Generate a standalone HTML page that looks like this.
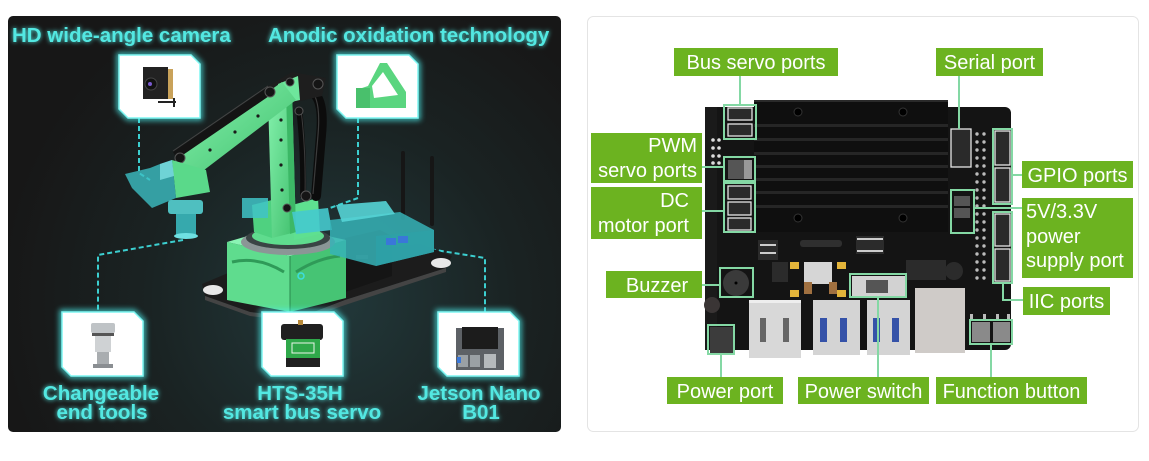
<!DOCTYPE html>
<html><head><meta charset="utf-8">
<style>
html,body{margin:0;padding:0;background:#fff;}
svg{display:block;}
</style></head>
<body>
<svg width="1149" height="461" viewBox="0 0 1149 461" xmlns="http://www.w3.org/2000/svg">
<defs>
  <radialGradient id="bg" cx="330" cy="300" r="330" gradientUnits="userSpaceOnUse">
    <stop offset="0" stop-color="#22393b"/>
    <stop offset="0.55" stop-color="#1a2323"/>
    <stop offset="1" stop-color="#171717"/>
  </radialGradient>
  <filter id="glow" x="-20%" y="-60%" width="140%" height="220%">
    <feGaussianBlur in="SourceGraphic" stdDeviation="2.5" result="b"/>
    <feMerge><feMergeNode in="b"/><feMergeNode in="SourceGraphic"/></feMerge>
  </filter>
  <filter id="bglow" x="-30%" y="-30%" width="160%" height="160%">
    <feGaussianBlur in="SourceGraphic" stdDeviation="3"/>
  </filter>
  <linearGradient id="grn" x1="0" y1="0" x2="1" y2="1">
    <stop offset="0" stop-color="#86f2ae"/><stop offset="1" stop-color="#3fbf6c"/>
  </linearGradient>
</defs>

<!-- ============ LEFT PANEL ============ -->
<rect x="8" y="16" width="553" height="416" rx="5" fill="url(#bg)"/>

<!-- dashed connectors -->
<g fill="none" stroke="#3ccfd0" stroke-width="2" stroke-dasharray="5 3">
  <polyline points="139,118 139,173 150,180"/>
  <polyline points="358,118 358,198 330,208"/>
  <polyline points="183,240 98,255 98,312"/>
  <polyline points="302,277 310,284 310,312"/>
  <polyline points="423,248 485,258 485,312"/>
</g>

<!-- robot: base plate -->
<polygon points="202,284 240,268 420,244 452,256 446,268 345,300 298,318 250,312 205,296" fill="#1c1c1c"/>
<polygon points="205,296 250,312 298,318 345,300 446,268 446,272 345,305 298,322 250,316 205,300" fill="#444"/>
<ellipse cx="213" cy="290" rx="10" ry="5" fill="#e8e8e8"/>
<ellipse cx="441" cy="263" rx="10" ry="5" fill="#e8e8e8"/>
<!-- black block -->
<polygon points="345,238 380,230 392,236 392,276 345,292" fill="#151515"/>
<rect x="356" y="255" width="12" height="4" fill="#333"/>
<!-- green base box -->
<polygon points="227,242 290,256 290,312 227,300" fill="#5fdc8e"/>
<polygon points="290,256 346,240 346,298 290,312" fill="#46c474"/>
<polygon points="227,242 282,226 346,240 290,256" fill="#8af4b4"/>
<path d="M232,262 Q258,256 284,272" stroke="#2f9a58" stroke-width="3" fill="none"/>
<path d="M296,272 Q318,258 340,256" stroke="#2f9a58" stroke-width="3" fill="none"/>
<line x1="290" y1="256" x2="290" y2="312" stroke="#2a8a4e" stroke-width="1"/>
<circle cx="301" cy="276" r="3" fill="none" stroke="#3cdede" stroke-width="1.5"/>
<!-- turntable -->
<ellipse cx="288" cy="242" rx="47" ry="13" fill="#8b9696"/>
<ellipse cx="288" cy="238" rx="42" ry="11" fill="#3a4444"/>
<ellipse cx="288" cy="236" rx="36" ry="9" fill="#5fdc8e"/>
<!-- shoulder bracket -->
<polygon points="252,205 272,200 272,238 254,232" fill="#4fd180"/>
<polygon points="292,205 318,198 320,234 294,240" fill="#5ee090"/>
<!-- black curved link -->
<path d="M298,90 Q326,84 321,135 L316,196" stroke="#0c0c0c" stroke-width="10" fill="none" stroke-linecap="round"/>
<path d="M303,88 Q322,88 318,135 L313,194" stroke="#3c3c3c" stroke-width="1.2" fill="none"/>
<path d="M299,108 Q304,150 303,198" stroke="#0c0c0c" stroke-width="6" fill="none"/>
<path d="M301,110 Q306,150 305,196" stroke="#3c3c3c" stroke-width="1" fill="none"/>
<!-- vertical column -->
<polygon points="268,98 292,88 296,232 272,238" fill="url(#grn)"/>
<polygon points="286,92 292,88 296,232 290,234" fill="#3cb866"/>
<g fill="#1a1a1a">
  <circle cx="281" cy="120" r="1.6"/><circle cx="281" cy="140" r="1.6"/><circle cx="281" cy="165" r="1.6"/><circle cx="282" cy="190" r="1.6"/>
</g>
<!-- top bracket -->
<polygon points="265,88 292,72 326,78 322,96 296,102" fill="#1e1e1e"/>
<polygon points="278,84 298,76 300,100 282,104" fill="#6ee69c"/>
<!-- upper arm diagonal -->
<polygon points="175,158 282,82 296,100 191,180" fill="url(#grn)"/>
<polygon points="173,152 268,87 272,94 177,159" fill="#141414"/>
<line x1="173" y1="151" x2="268" y2="86" stroke="#444" stroke-width="1"/>
<g fill="#1a1a1a">
  <circle cx="210" cy="150" r="1.6"/><circle cx="235" cy="132" r="1.6"/><circle cx="258" cy="116" r="1.6"/>
</g>
<!-- joints -->
<g fill="#151515" stroke="#555" stroke-width="1">
  <circle cx="180" cy="158" r="5"/><circle cx="270" cy="92" r="5"/><circle cx="290" cy="82" r="4"/>
  <circle cx="318" cy="84" r="5"/><circle cx="299" cy="111" r="4"/><circle cx="306" cy="196" r="5"/><circle cx="287" cy="208" r="4"/>
</g>
<!-- wrist -->
<polygon points="172,160 206,170 210,192 176,198" fill="#5ad98a"/>
<!-- gripper cyan -->
<polygon points="125,174 150,168 160,164 172,160 176,198 152,208 132,188" fill="#3cbfc4" opacity="0.8"/>
<polygon points="160,164 172,160 174,176 160,180" fill="#7ee0e2" opacity="0.8"/>
<!-- end tool -->
<rect x="168" y="200" width="35" height="14" rx="3" fill="#55d0d2" opacity="0.9"/>
<rect x="176" y="214" width="20" height="22" fill="#3ab8bd" opacity="0.9"/>
<ellipse cx="186" cy="236" rx="12" ry="3" fill="#6fe0e2"/>
<!-- cyan servos -->
<rect x="242" y="198" width="26" height="20" fill="#3fc3c7" opacity="0.85"/>
<polygon points="292,212 328,208 332,230 296,234" fill="#45cace" opacity="0.9"/>
<!-- antennas -->
<line x1="403" y1="153" x2="403" y2="218" stroke="#161616" stroke-width="4" stroke-linecap="round"/>
<line x1="432" y1="158" x2="432" y2="224" stroke="#161616" stroke-width="4" stroke-linecap="round"/>
<!-- jetson cyan case -->
<polygon points="330,220 400,212 434,230 434,252 376,266 330,254" fill="#36b3b7" opacity="0.85"/>
<polygon points="336,205 386,201 395,214 342,222" fill="#55d4d6" opacity="0.9"/>
<polygon points="376,236 434,230 434,252 376,266" fill="#2ea1a6" opacity="0.9"/>
<rect x="386" y="238" width="10" height="7" fill="#3a77d8"/>
<rect x="398" y="236" width="10" height="7" fill="#3a77d8"/>

<!-- glowing item boxes -->
<g>
  <g fill="none" stroke="#4df0ee" stroke-width="5" filter="url(#bglow)" opacity="0.8">
    <polygon points="119,55 191,55 200,64 200,118 128,118 119,109"/>
    <polygon points="337,55 409,55 418,64 418,118 346,118 337,109"/>
    <polygon points="62,312 134,312 143,321 143,376 71,376 62,367"/>
    <polygon points="262,312 334,312 343,321 343,376 271,376 262,367"/>
    <polygon points="438,312 510,312 519,321 519,376 447,376 438,367"/>
  </g>
  <g fill="#ffffff" stroke="#7ff6f2" stroke-width="1.5">
    <polygon points="119,55 191,55 200,64 200,118 128,118 119,109"/>
    <polygon points="337,55 409,55 418,64 418,118 346,118 337,109"/>
    <polygon points="62,312 134,312 143,321 143,376 71,376 62,367"/>
    <polygon points="262,312 334,312 343,321 343,376 271,376 262,367"/>
    <polygon points="438,312 510,312 519,321 519,376 447,376 438,367"/>
  </g>
</g>
<!-- camera icon -->
<rect x="143" y="67" width="25" height="32" fill="#222"/>
<rect x="168" y="69" width="5" height="30" fill="#c9a25a"/>
<circle cx="151" cy="84" r="6" fill="#111" stroke="#444"/>
<circle cx="150" cy="84" r="2" fill="#7a5ad0"/>
<line x1="158" y1="102" x2="176" y2="102" stroke="#222" stroke-width="2"/>
<line x1="174" y1="98" x2="174" y2="107" stroke="#222" stroke-width="2"/>
<!-- anodic bracket -->
<polygon points="356,108 356,90 368,86 380,63 387,63 406,92 406,108" fill="#5ad57f"/>
<polygon points="372,86 383,72 398,95 374,98" fill="#ffffff"/>
<rect x="356" y="88" width="14" height="20" fill="#49c06c"/>
<!-- end tool icon -->
<rect x="91" y="323" width="24" height="10" rx="2" fill="#bfc3c6"/>
<rect x="92" y="333" width="22" height="3" fill="#555"/>
<rect x="95" y="336" width="16" height="16" fill="#cfd2d4"/>
<rect x="97" y="352" width="12" height="14" fill="#a9adb0"/>
<rect x="93" y="364" width="20" height="4" fill="#8a8e92"/>
<!-- servo icon -->
<rect x="281" y="324" width="42" height="16" rx="3" fill="#202020"/>
<rect x="286" y="339" width="34" height="20" fill="#2fa84a"/>
<rect x="292" y="343" width="22" height="10" fill="none" stroke="#e8f5e8" stroke-width="1"/>
<rect x="286" y="358" width="34" height="9" fill="#202020"/>
<rect x="298" y="320" width="5" height="5" fill="#b88a3a"/>
<!-- jetson icon -->
<rect x="456" y="328" width="48" height="42" fill="#5d6166"/>
<rect x="462" y="327" width="36" height="22" fill="#1c1c1c"/>
<rect x="458" y="355" width="10" height="12" fill="#9aa0a5"/>
<rect x="470" y="355" width="10" height="12" fill="#9aa0a5"/>
<rect x="484" y="354" width="12" height="14" fill="#b5b9bc"/>
<rect x="457" y="357" width="4" height="6" fill="#3a77d8"/>

<!-- left panel texts -->
<g font-family="Liberation Sans, Arial, sans-serif" font-weight="bold" font-size="20.5" fill="#52e8e2" filter="url(#glow)">
  <text x="12" y="42">HD wide-angle camera</text>
  <text x="268" y="42">Anodic oxidation technology</text>
  <text x="101" y="400" text-anchor="middle">Changeable</text>
  <text x="102" y="419" text-anchor="middle">end tools</text>
  <text x="300" y="400" text-anchor="middle">HTS-35H</text>
  <text x="302" y="419" text-anchor="middle">smart bus servo</text>
  <text x="479" y="400" text-anchor="middle">Jetson Nano</text>
  <text x="481" y="419" text-anchor="middle">B01</text>
</g>

<!-- ============ RIGHT CARD ============ -->
<rect x="587.5" y="16.5" width="551" height="415" rx="6" fill="#ffffff" stroke="#e4e4e4" stroke-width="1"/>

<!-- PCB -->
<rect x="705" y="107" width="306" height="243" rx="6" fill="#141414"/>
<rect x="705" y="107" width="12" height="243" fill="#1a1a1a"/>
<!-- heatsink -->
<rect x="754" y="100" width="194" height="132" fill="#0f0f0f"/>
<g fill="#262626">
  <rect x="754" y="124" width="194" height="3"/>
  <rect x="754" y="138" width="194" height="3"/>
  <rect x="754" y="152" width="194" height="3"/>
  <rect x="754" y="165" width="194" height="3"/>
  <rect x="754" y="178" width="194" height="3"/>
  <rect x="754" y="191" width="194" height="3"/>
  <rect x="754" y="205" width="194" height="3"/>
</g>
<rect x="754" y="100" width="194" height="2" fill="#2a2a2a"/>
<g fill="#000" stroke="#333" stroke-width="1">
  <circle cx="798" cy="112" r="4"/><circle cx="903" cy="112" r="4"/>
  <circle cx="798" cy="218" r="4"/><circle cx="903" cy="218" r="4"/>
</g>
<!-- left small header dots -->
<g fill="#ddd">
  <circle cx="713" cy="140" r="1.8"/><circle cx="713" cy="148" r="1.8"/><circle cx="713" cy="156" r="1.8"/><circle cx="713" cy="163" r="1.8"/>
  <circle cx="719" cy="140" r="1.8"/><circle cx="719" cy="148" r="1.8"/><circle cx="719" cy="156" r="1.8"/><circle cx="719" cy="163" r="1.8"/>
</g>
<!-- pin header column -->
<g fill="#bbb">
  <circle cx="977" cy="134" r="1.7"/><circle cx="984" cy="134" r="1.7"/>
  <circle cx="977" cy="142" r="1.7"/><circle cx="984" cy="142" r="1.7"/>
  <circle cx="977" cy="150" r="1.7"/><circle cx="984" cy="150" r="1.7"/>
  <circle cx="977" cy="158" r="1.7"/><circle cx="984" cy="158" r="1.7"/>
  <circle cx="977" cy="166" r="1.7"/><circle cx="984" cy="166" r="1.7"/>
  <circle cx="977" cy="174" r="1.7"/><circle cx="984" cy="174" r="1.7"/>
  <circle cx="977" cy="182" r="1.7"/><circle cx="984" cy="182" r="1.7"/>
  <circle cx="977" cy="190" r="1.7"/><circle cx="984" cy="190" r="1.7"/>
  <circle cx="977" cy="198" r="1.7"/><circle cx="984" cy="198" r="1.7"/>
  <circle cx="977" cy="206" r="1.7"/><circle cx="984" cy="206" r="1.7"/>
  <circle cx="977" cy="214" r="1.7"/><circle cx="984" cy="214" r="1.7"/>
  <circle cx="977" cy="222" r="1.7"/><circle cx="984" cy="222" r="1.7"/>
  <circle cx="977" cy="230" r="1.7"/><circle cx="984" cy="230" r="1.7"/>
  <circle cx="977" cy="238" r="1.7"/><circle cx="984" cy="238" r="1.7"/>
  <circle cx="977" cy="246" r="1.7"/><circle cx="984" cy="246" r="1.7"/>
  <circle cx="977" cy="254" r="1.7"/><circle cx="984" cy="254" r="1.7"/>
  <circle cx="977" cy="262" r="1.7"/><circle cx="984" cy="262" r="1.7"/>
  <circle cx="977" cy="270" r="1.7"/><circle cx="984" cy="270" r="1.7"/>
  <circle cx="977" cy="278" r="1.7"/><circle cx="984" cy="278" r="1.7"/>
</g>
<!-- white connectors -->
<g fill="#2a2a2a" stroke="#e6e6e6" stroke-width="1.3">
  <rect x="728" y="108" width="24" height="12"/>
  <rect x="728" y="124" width="24" height="12"/>
  <rect x="728" y="186" width="23" height="13"/>
  <rect x="728" y="202" width="23" height="13"/>
  <rect x="728" y="218" width="23" height="12"/>
  <rect x="951" y="129" width="20" height="38"/>
  <rect x="995" y="131" width="15" height="34"/>
  <rect x="995" y="168" width="15" height="34"/>
  <rect x="995" y="214" width="15" height="32"/>
  <rect x="995" y="249" width="15" height="32"/>
</g>
<rect x="728" y="160" width="24" height="19" fill="#555"/>
<rect x="744" y="160" width="8" height="19" fill="#999"/>
<rect x="954" y="196" width="16" height="10" fill="#555"/>
<rect x="954" y="208" width="16" height="10" fill="#555"/>
<!-- lower board components -->
<g fill="#2b2b2b">
  <rect x="758" y="240" width="20" height="20"/>
  <rect x="772" y="262" width="16" height="20"/>
  <rect x="856" y="236" width="28" height="18"/>
  <rect x="906" y="260" width="40" height="20"/>
</g>
<g fill="#ccc">
  <rect x="857" y="238" width="26" height="2"/><rect x="857" y="250" width="26" height="2"/>
  <rect x="760" y="244" width="16" height="2"/><rect x="760" y="252" width="16" height="2"/>
</g>
<rect x="800" y="240" width="42" height="7" rx="3" fill="#2f2f2f"/>
<circle cx="954" cy="271" r="9" fill="#2b2b2b"/>
<g fill="#e3b43a">
  <rect x="790" y="262" width="9" height="7"/><rect x="837" y="262" width="9" height="7"/>
  <rect x="790" y="290" width="9" height="7"/><rect x="837" y="290" width="9" height="7"/>
</g>
<rect x="804" y="262" width="28" height="22" fill="#d6d6d6"/>
<rect x="804" y="282" width="8" height="12" fill="#a07040"/>
<rect x="829" y="282" width="8" height="12" fill="#a07040"/>
<!-- buzzer -->
<circle cx="736" cy="283" r="13" fill="#3a3a3a"/>
<circle cx="736" cy="283" r="1.5" fill="#000"/>
<circle cx="712" cy="305" r="8" fill="#3a3535"/>
<!-- power jack -->
<rect x="710" y="327" width="23" height="26" fill="#3c3c3c"/>
<!-- power switch -->
<rect x="852" y="276" width="53" height="20" fill="#d2d2d2"/>
<rect x="866" y="280" width="22" height="13" fill="#555"/>
<!-- USB ports -->
<rect x="749" y="300" width="52" height="58" fill="#d8d8d8"/>
<rect x="749" y="300" width="52" height="3" fill="#eee"/>
<rect x="760" y="318" width="6" height="24" fill="#666"/>
<rect x="783" y="318" width="6" height="24" fill="#666"/>
<rect x="813" y="300" width="47" height="55" fill="#d4d4d4"/>
<rect x="820" y="318" width="7" height="24" fill="#3552a8"/>
<rect x="840" y="318" width="7" height="24" fill="#3552a8"/>
<rect x="867" y="300" width="43" height="55" fill="#d4d4d4"/>
<rect x="873" y="318" width="7" height="24" fill="#3552a8"/>
<rect x="892" y="318" width="7" height="24" fill="#3552a8"/>
<!-- ethernet -->
<rect x="915" y="288" width="50" height="65" fill="#cfcbc8"/>
<!-- function buttons -->
<rect x="972" y="322" width="18" height="20" fill="#8a8a8a"/>
<rect x="993" y="322" width="17" height="20" fill="#8a8a8a"/>
<g fill="#bbb"><rect x="970" y="314" width="3" height="5"/><rect x="983" y="314" width="3" height="5"/><rect x="996" y="314" width="3" height="5"/><rect x="1007" y="314" width="3" height="5"/></g>

<!-- mint connector lines & highlight boxes -->
<g fill="none" stroke="#84d8a4" stroke-width="2">
  <line x1="740" y1="76" x2="740" y2="105"/>
  <rect x="724" y="105" width="32" height="34"/>
  <line x1="959" y1="76" x2="959" y2="129"/>
  <line x1="702" y1="167" x2="724" y2="167"/>
  <rect x="724" y="157" width="31" height="24"/>
  <line x1="702" y1="211" x2="724" y2="211"/>
  <rect x="724" y="183" width="31" height="49"/>
  <rect x="993" y="129" width="19" height="75"/>
  <line x1="1012" y1="175" x2="1022" y2="175"/>
  <rect x="951" y="190" width="23" height="43"/>
  <line x1="974" y1="208" x2="1022" y2="208"/>
  <rect x="993" y="212" width="19" height="71"/>
  <polyline points="1003,283 1003,300 1023,300"/>
  <line x1="702" y1="285" x2="720" y2="285"/>
  <rect x="720" y="268" width="33" height="29"/>
  <rect x="708" y="325" width="26" height="29"/>
  <line x1="721" y1="354" x2="721" y2="377"/>
  <rect x="850" y="274" width="56" height="23"/>
  <line x1="878" y1="297" x2="878" y2="377"/>
  <rect x="970" y="320" width="42" height="24"/>
  <line x1="991" y1="344" x2="991" y2="377"/>
</g>

<!-- green labels -->
<g fill="#6cb320">
  <rect x="674" y="48" width="164" height="28"/>
  <rect x="936" y="48" width="107" height="28"/>
  <rect x="591" y="133" width="111" height="50"/>
  <rect x="591" y="187" width="111" height="52"/>
  <rect x="1022" y="161" width="111" height="27"/>
  <rect x="1022" y="198" width="111" height="80"/>
  <rect x="606" y="271" width="96" height="27"/>
  <rect x="1023" y="287" width="87" height="28"/>
  <rect x="667" y="377" width="116" height="27"/>
  <rect x="798" y="377" width="131" height="27"/>
  <rect x="936" y="377" width="151" height="27"/>
</g>
<g font-family="Liberation Sans, Arial, sans-serif" font-size="20" fill="#ffffff">
  <text x="756" y="69" text-anchor="middle">Bus servo ports</text>
  <text x="989.5" y="69" text-anchor="middle">Serial port</text>
  <text x="697" y="152" text-anchor="end">PWM</text>
  <text x="697" y="177" text-anchor="end">servo ports</text>
  <text x="689" y="207" text-anchor="end">DC</text>
  <text x="689" y="232" text-anchor="end">motor port</text>
  <text x="1077.5" y="182" text-anchor="middle">GPIO ports</text>
  <text x="1026" y="218">5V/3.3V</text>
  <text x="1026" y="243">power</text>
  <text x="1026" y="267">supply port</text>
  <text x="657" y="292" text-anchor="middle">Buzzer</text>
  <text x="1066.5" y="308" text-anchor="middle">IIC ports</text>
  <text x="725" y="398" text-anchor="middle">Power port</text>
  <text x="863.5" y="398" text-anchor="middle">Power switch</text>
  <text x="1011.5" y="398" text-anchor="middle">Function button</text>
</g>
</svg>
</body></html>
